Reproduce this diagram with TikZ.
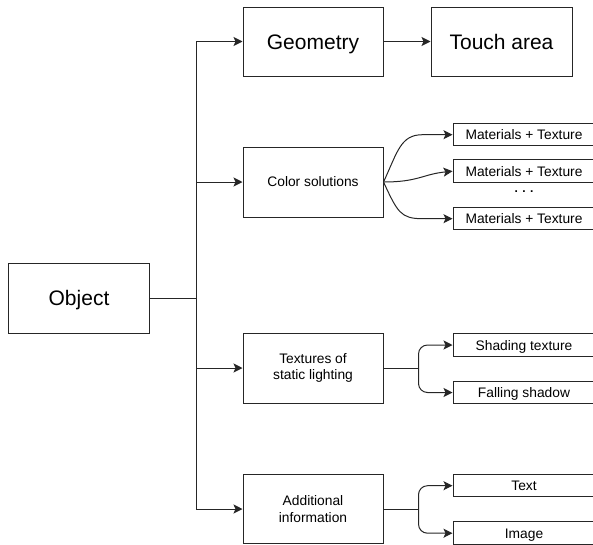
\documentclass[tikz,border=0pt]{standalone}
\usepackage{fontspec}
\setmainfont{Liberation Sans}
\usepackage{tikz}
\usetikzlibrary{arrows.meta, positioning, calc}

\begin{document}
\begin{tikzpicture}[x=1pt, y=-1pt,
                bigbox/.style={draw=black!85, line width=1pt, minimum width=140pt, minimum height=69pt,
                               text height=15pt, text depth=0pt,
                               align=center, inner sep=0pt, font=\fontsize{21}{25}\selectfont},
                midbox/.style={draw=black!85, line width=1pt, minimum width=140pt, minimum height=70pt,
                               align=center, inner sep=0pt, font=\fontsize{13.8}{16.7}\selectfont},
                leaf/.style={draw=black!85, line width=1pt, minimum width=146pt, minimum height=22.5pt,
                             text height=10pt, text depth=0pt,
                             align=center, inner sep=0pt, font=\fontsize{13.8}{16}\selectfont},
                link/.style={line width=1pt, black!85},
                connection/.style={link, -{Stealth[length=9pt, width=9pt, inset=2pt]}}]

                \useasboundingbox (0,0) rectangle (593,544);

                % Root object on the left
                \node[bigbox, minimum width=141pt, minimum height=70pt] (object) at (79,298) {Object};

                % First level column
                \node[bigbox] (geometry) at (313,41.5) {Geometry};
                \node[bigbox, minimum width=141pt, right=47pt of geometry] (touch) {Touch area};
                \node[midbox] (color) at (313,182) {Color solutions};
                \node[midbox] (lighting) at (313,368) {Textures of\\static lighting};
                \node[midbox, minimum height=69pt] (info) at (313,509) {Additional\\information};

                % Material variants
                \node[leaf] (mat1) at (526,134.7) {\hspace*{-4pt}Materials + Texture};
                \node[leaf, below=13pt of mat1] (mat2) {\hspace*{-4pt}Materials + Texture};
                \node[leaf, below=24pt of mat2] (mat3) {\hspace*{-4pt}Materials + Texture};
                \node[font=\bfseries\fontsize{12}{12}\selectfont, inner sep=0pt, text height=2pt, text depth=0pt] (dots) at (524,191) {. . .};

                % Lighting and info leaves
                \node[leaf] (shading) at (526,345) {\hspace*{-4pt}Shading texture};
                \node[leaf, below=24pt of shading] (shadow) {\hspace*{-4pt}Falling shadow};
                \node[leaf] (text) at (526,485.7) {\hspace*{-4pt}Text};
                \node[leaf, below=24pt of text] (image) {\hspace*{-4pt}Image};

                % Trunk from the object
                \coordinate (trunk) at (196,298);
                \draw[link] (object.east) -- (trunk);
                \draw[connection] (trunk) |- (geometry.west);
                \draw[connection] (trunk) |- (color.west);
                \draw[connection] (trunk) |- (lighting.west);
                \draw[connection] (trunk) |- (info.west);
                \draw[connection] (geometry.east) -- (touch.west);

                % Color fan
                \draw[connection] (color.east) .. controls +(14,-30) and +(-22,0) .. ($(mat1.west)+(-30,0)$) -- (mat1.west);
                \draw[connection] (color.east) .. controls +(35,0) and +(-30,3) .. (mat2.west);
                \draw[connection] (color.east) .. controls +(14,30) and +(-22,0) .. ($(mat3.west)+(-30,0)$) -- (mat3.west);

                % Lighting split
                \coordinate (lsplit) at ($(lighting.east)+(35,0)$);
                \draw[link] (lighting.east) -- (lsplit);
                \draw[connection, rounded corners=9pt] (lsplit) |- (shading.west);
                \draw[connection, rounded corners=9pt] (lsplit) |- (shadow.west);

                % Info split
                \coordinate (isplit) at ($(info.east)+(35,0)$);
                \draw[link] (info.east) -- (isplit);
                \draw[connection, rounded corners=9pt] (isplit) |- (text.west);
                \draw[connection, rounded corners=9pt] (isplit) |- (image.west);
            \end{tikzpicture}
\end{document}
